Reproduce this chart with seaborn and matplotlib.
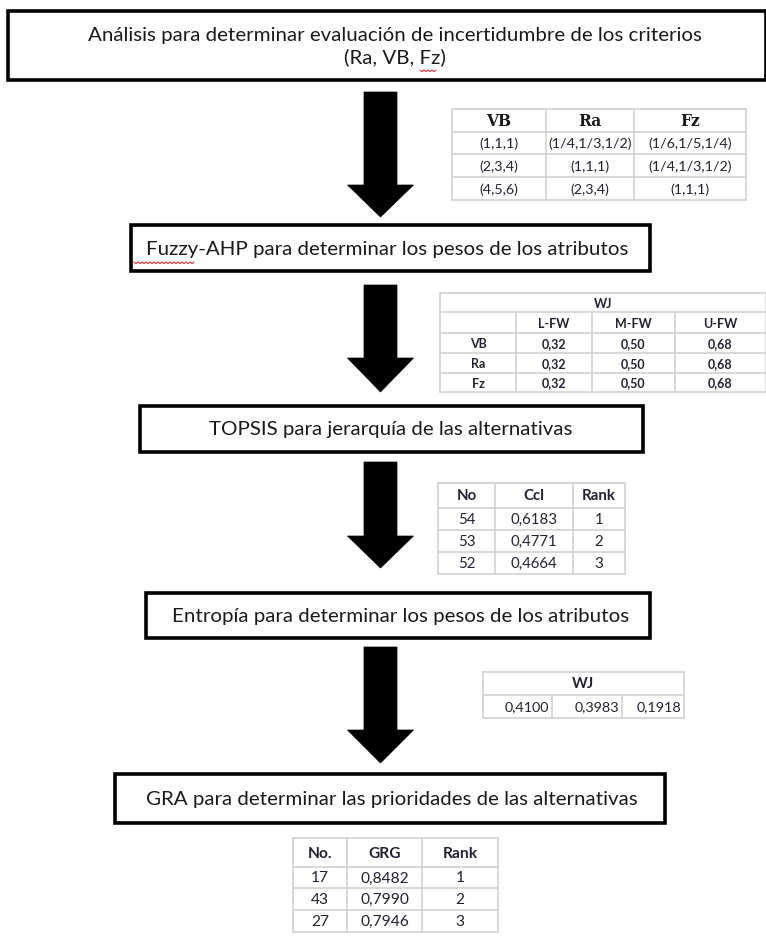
import matplotlib
matplotlib.use("Agg")
import matplotlib.pyplot as plt
from matplotlib.patches import Rectangle, Polygon
import seaborn as sns
import numpy as np

sns.set_theme(style="white")
plt.rcParams['font.family'] = ['Lato', 'DejaVu Sans']

# ---------------- data ----------------
step_titles = [
    "Análisis para determinar evaluación de incertidumbre de los criterios\n(Ra, VB, Fz)",
    "Fuzzy-AHP para determinar los pesos de los atributos",
    "TOPSIS para jerarquía de las alternativas",
    "Entropía para determinar los pesos de los atributos",
    "GRA para determinar las prioridades de las alternativas",
]
criteria = ["VB", "Ra", "Fz"]
pairwise_vb = ["(1,1,1)", "(2,3,4)", "(4,5,6)"]
pairwise_ra = ["(1/4,1/3,1/2)", "(1,1,1)", "(2,3,4)"]
pairwise_fz = ["(1/6,1/5,1/4)", "(1/4,1/3,1/2)", "(1,1,1)"]

fw_cols = ["L-FW", "M-FW", "U-FW"]
fw_lower = [0.32, 0.32, 0.32]
fw_middle = [0.50, 0.50, 0.50]
fw_upper = [0.68, 0.68, 0.68]

topsis_cols = ["No", "Ccl", "Rank"]
topsis_no = [54, 53, 52]
topsis_ccl = [0.6183, 0.4771, 0.4664]
topsis_rank = [1, 2, 3]

entropy_w = [0.4100, 0.3983, 0.1918]

gra_cols = ["No.", "GRG", "Rank"]
gra_no = [17, 43, 27]
gra_grg = [0.8482, 0.7990, 0.7946]
gra_rank = [1, 2, 3]

def dec(v, n):
    return f"{v:.{n}f}".replace(".", ",")

# ---------------- layout ----------------
W, H = 766, 936
fig = plt.figure(figsize=(W / 100, H / 100), dpi=100)
ax = fig.add_axes([0, 0, 1, 1])
ax.set_xlim(0, W)
ax.set_ylim(H, 0)
ax.axis("off")

PT = 0.72  # px -> pt
TXT = "#1a1a1a"
CELL = "#222233"
GRID = "#d2d2d2"

boxes = [  # x0, y0, x1, y1, text x offset
    (8, 11, 766, 80, 8),
    (131, 225, 650, 271, -3),
    (140, 406, 643, 452, -1),
    (146, 593, 650, 638, 3),
    (115, 774, 665, 823, 2),
]
for (x0, y0, x1, y1, dx), t in zip(boxes, step_titles):
    ax.add_patch(Rectangle((x0, y0), x1 - x0, y1 - y0, fill=False,
                           ec="black", lw=2.6, zorder=3))
    ax.text((x0 + x1) / 2 + dx, (y0 + y1) / 2 + 1, t, ha="center", va="center",
            fontsize=20.5 * PT, color=TXT, linespacing=1.25, zorder=4)

# spell-check squiggles
def squiggle(x0, x1, y):
    xs = np.arange(x0, x1 + 0.1, 2)
    ys = y + np.where(np.arange(len(xs)) % 2 == 0, 0, 1.6)
    ax.plot(xs, ys, color="#e03030", lw=0.8, zorder=5)

squiggle(134, 194, 262)
squiggle(420, 436, 70)

arrows = [(92, 185, 217), (285, 358, 392), (462, 536, 568), (647, 730, 763)]
cx = 380.5
for top, hs, tip in arrows:
    poly = [(cx - 16.5, top), (cx + 16.5, top), (cx + 16.5, hs), (cx + 33, hs),
            (cx, tip), (cx - 33, hs), (cx - 16.5, hs)]
    ax.add_patch(Polygon(poly, closed=True, fc="black", ec="black", lw=0.5, zorder=3))

def grid(xs, ys):
    for y in ys:
        ax.plot([xs[0], xs[-1]], [y, y], color=GRID, lw=1.2, zorder=2)
    for x in xs:
        ax.plot([x, x], [ys[0], ys[-1]], color=GRID, lw=1.2, zorder=2)

# table 1: pairwise comparison
t1x = [452, 546, 634, 746]
t1y = [109, 132, 154, 177, 200]
grid(t1x, t1y)
cols1 = [pairwise_vb, pairwise_ra, pairwise_fz]
for j, c in enumerate(criteria):
    xm = (t1x[j] + t1x[j + 1]) / 2
    ax.text(xm, (t1y[0] + t1y[1]) / 2 + 1, c, ha="center", va="center",
            fontsize=15.5 * PT, fontweight="bold", family="DejaVu Serif", color=TXT)
    for i in range(3):
        ax.text(xm, (t1y[i + 1] + t1y[i + 2]) / 2 + 1, cols1[j][i], ha="center",
                va="center", fontsize=14.2 * PT, color=CELL)

# table 2: fuzzy weights
t2x = [440, 516, 592, 675, 766]
t2y = [293, 312, 333, 353, 373, 392]
for y in t2y:
    ax.plot([t2x[0], t2x[-1]], [y, y], color=GRID, lw=1.2, zorder=2)
for x in [t2x[0], t2x[-1]]:
    ax.plot([x, x], [t2y[0], t2y[-1]], color=GRID, lw=1.2, zorder=2)
for x in t2x[1:-1]:
    ax.plot([x, x], [t2y[1], t2y[-1]], color=GRID, lw=1.2, zorder=2)
FS2 = 12.5
ax.text((t2x[0] + t2x[-1]) / 2, (t2y[0] + t2y[1]) / 2 + 1, "WJ", ha="center",
        va="center", fontsize=FS2 * PT, fontweight="bold", color=CELL)
for j, c in enumerate(fw_cols):
    ax.text((t2x[j + 1] + t2x[j + 2]) / 2, (t2y[1] + t2y[2]) / 2 + 1, c,
            ha="center", va="center", fontsize=FS2 * PT, fontweight="bold", color=CELL)
fw = [fw_lower, fw_middle, fw_upper]
for i, c in enumerate(criteria):
    yy = (t2y[i + 2] + t2y[i + 3]) / 2 + 1
    ax.text((t2x[0] + t2x[1]) / 2, yy, c, ha="center", va="center",
            fontsize=FS2 * PT, fontweight="bold", color=CELL)
    for j in range(3):
        ax.text((t2x[j + 1] + t2x[j + 2]) / 2, yy, dec(fw[j][i], 2), ha="center",
                va="center", fontsize=FS2 * PT, fontweight="bold", color=CELL)

# rank tables
def rank_table(xs, ys, header, a, b, c, fs):
    grid(xs, ys)
    for j, h in enumerate(header):
        ax.text((xs[j] + xs[j + 1]) / 2, (ys[0] + ys[1]) / 2 + 1, h, ha="center",
                va="center", fontsize=fs * PT, fontweight="bold", color=CELL)
    for i in range(3):
        yy = (ys[i + 1] + ys[i + 2]) / 2 + 1
        vals = [str(a[i]), dec(b[i], 4), str(c[i])]
        for j, v in enumerate(vals):
            ax.text((xs[j] + xs[j + 1]) / 2, yy, v, ha="center", va="center",
                    fontsize=fs * PT, color=CELL)

rank_table([438, 495, 573, 625], [483, 508, 530, 552, 574], topsis_cols,
           topsis_no, topsis_ccl, topsis_rank, 15)

# table 4: entropy weights
t4x = [483, 552, 622, 684]
t4y = [672, 695, 718]
for y in t4y:
    ax.plot([t4x[0], t4x[-1]], [y, y], color=GRID, lw=1.2, zorder=2)
for x in [t4x[0], t4x[-1]]:
    ax.plot([x, x], [t4y[0], t4y[-1]], color=GRID, lw=1.2, zorder=2)
for x in t4x[1:-1]:
    ax.plot([x, x], [t4y[1], t4y[-1]], color=GRID, lw=1.2, zorder=2)
ax.text((t4x[0] + t4x[-1]) / 2, (t4y[0] + t4y[1]) / 2 + 1, "WJ", ha="center",
        va="center", fontsize=15 * PT, fontweight="bold", color=CELL)
for j, v in enumerate(entropy_w):
    ax.text(t4x[j + 1] - 3, (t4y[1] + t4y[2]) / 2 + 1, dec(v, 4), ha="right",
            va="center", fontsize=14.2 * PT, color=CELL)

# GRA table
rank_table([293, 347, 422, 498], [838, 867, 888, 910, 932], gra_cols,
           gra_no, gra_grg, gra_rank, 15.5)

fig.savefig("out.png", dpi=100, facecolor="white")
